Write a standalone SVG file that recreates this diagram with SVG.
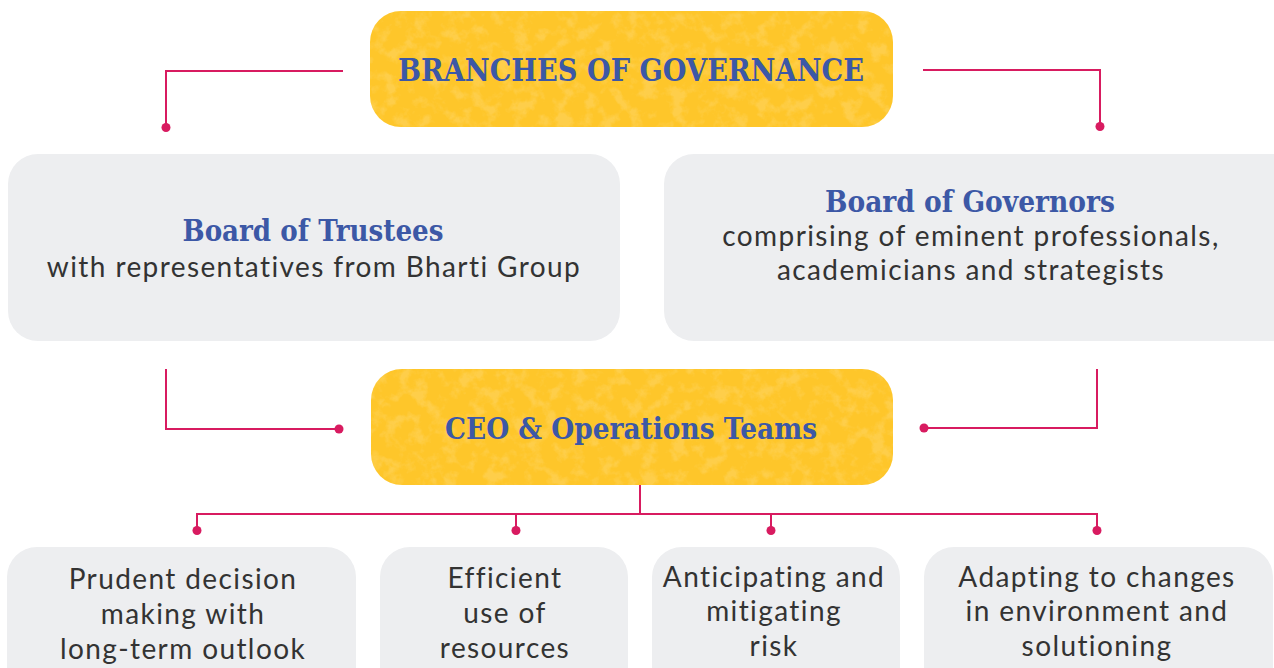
<svg xmlns="http://www.w3.org/2000/svg" width="1274" height="668" viewBox="0 0 1274 668">
<defs>
<filter id="tex" x="0" y="0" width="100%" height="100%">
<feTurbulence type="fractalNoise" baseFrequency="0.07" numOctaves="4" seed="7" result="n"/>
<feColorMatrix in="n" type="matrix" values="0 0 0 0 1  0 0 0 0 1  0 0 0 0 1  4 0 0 0 -1.9" result="w"/>
<feComposite in="w" in2="SourceAlpha" operator="in"/>
</filter>
<style>
.yel{fill:#FEC62A}
.texo{fill:#fff;opacity:0.15}
.gray{fill:#EDEEF0}
.ln{fill:none;stroke:#D81B60;stroke-width:2}
.dot{fill:#D81B60}
.hd{font-family:"DejaVu Serif","Liberation Serif",serif;font-weight:bold;fill:#3C58A6;text-anchor:middle}
.bd{font-family:Lato,"Noto Sans",sans-serif;fill:#333333;text-anchor:middle;font-size:28px;letter-spacing:1.4px}
</style>
</defs>
<rect width="1274" height="668" fill="#ffffff"/>

<g id="connectors">
<polyline class="ln" points="343,71 166,71 166,127"/>
<circle class="dot" cx="166" cy="127.5" r="4.5"/>
<polyline class="ln" points="923,70 1100,70 1100,126"/>
<circle class="dot" cx="1100" cy="126.5" r="4.5"/>
<polyline class="ln" points="166,369 166,429 339,429"/>
<circle class="dot" cx="339" cy="429" r="4.5"/>
<polyline class="ln" points="1097,369 1097,428 924,428"/>
<circle class="dot" cx="924" cy="428" r="4.5"/>
<line class="ln" x1="640" y1="484" x2="640" y2="514"/>
<polyline class="ln" points="197,530 197,514 1097,514 1097,530"/>
<line class="ln" x1="516" y1="514" x2="516" y2="530"/>
<line class="ln" x1="771" y1="514" x2="771" y2="530"/>
<circle class="dot" cx="197" cy="530.5" r="4.5"/>
<circle class="dot" cx="516" cy="530.5" r="4.5"/>
<circle class="dot" cx="771" cy="530.5" r="4.5"/>
<circle class="dot" cx="1097" cy="530.5" r="4.5"/>
</g>

<g id="branches">
<rect class="yel" x="370" y="11" width="523" height="116" rx="31"/>
<rect class="texo" x="370" y="11" width="523" height="116" rx="31" filter="url(#tex)"/>
<text class="hd" x="631" y="81" font-size="31" textLength="466" lengthAdjust="spacingAndGlyphs">BRANCHES OF GOVERNANCE</text>
</g>

<g id="trustees">
<rect class="gray" x="8" y="154" width="612" height="187" rx="30"/>
<text class="hd" x="313" y="241" font-size="30" textLength="261" lengthAdjust="spacingAndGlyphs">Board of Trustees</text>
<text class="bd" x="314" y="277">with representatives from Bharti Group</text>
</g>

<g id="governors">
<rect class="gray" x="664" y="154" width="640" height="187" rx="30"/>
<text class="hd" x="970" y="212" font-size="30" textLength="290" lengthAdjust="spacingAndGlyphs">Board of Governors</text>
<text class="bd" x="971" y="246">comprising of eminent professionals,</text>
<text class="bd" x="971" y="280">academicians and strategists</text>
</g>

<g id="ceo">
<rect class="yel" x="371" y="369" width="522" height="116" rx="31"/>
<rect class="texo" x="371" y="369" width="522" height="116" rx="31" filter="url(#tex)"/>
<text class="hd" x="631" y="439" font-size="30" textLength="372" lengthAdjust="spacingAndGlyphs">CEO &amp; Operations Teams</text>
</g>

<g id="prudent">
<rect class="gray" x="7" y="547" width="349" height="160" rx="30"/>
<text class="bd" x="183" y="589">Prudent decision</text>
<text class="bd" x="183" y="624">making with</text>
<text class="bd" x="183" y="659">long-term outlook</text>
</g>

<g id="efficient">
<rect class="gray" x="380" y="547" width="248" height="160" rx="30"/>
<text class="bd" x="505" y="588">Efficient</text>
<text class="bd" x="505" y="623">use of</text>
<text class="bd" x="505" y="658">resources</text>
</g>

<g id="anticipating">
<rect class="gray" x="652" y="547" width="248" height="160" rx="30"/>
<text class="bd" x="774" y="587">Anticipating and</text>
<text class="bd" x="774" y="621">mitigating</text>
<text class="bd" x="774" y="656">risk</text>
</g>

<g id="adapting">
<rect class="gray" x="924" y="547" width="349" height="160" rx="30"/>
<text class="bd" x="1097" y="587">Adapting to changes</text>
<text class="bd" x="1097" y="621">in environment and</text>
<text class="bd" x="1097" y="656">solutioning</text>
</g>
</svg>
